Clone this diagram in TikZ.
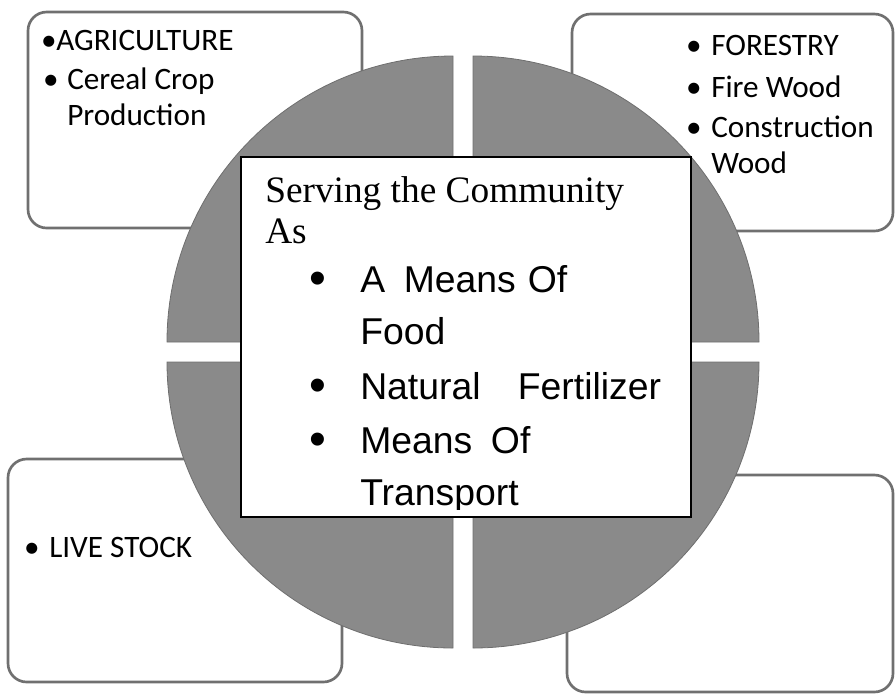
\documentclass[tikz,border=0pt]{standalone}
\usepackage{fontspec}
\newfontfamily\calfont{Carlito}
\newfontfamily\arialfont{Liberation Sans}
\newfontfamily\romanfont{Liberation Serif}
\usetikzlibrary{positioning}
\definecolor{quadgray}{RGB}{138,138,138}
\definecolor{boxline}{RGB}{112,112,112}

\begin{document}
\begin{tikzpicture}
  [x=0.75pt,y=-0.75pt,
   outerbox/.style={draw=boxline,line width=2pt,fill=white,rounded corners=14pt},
   quad/.style={fill=quadgray,draw=quadgray!80!black,line width=0.6pt},
   centerbox/.style={draw=black,line width=0.9pt,fill=white},
   small/.style={inner sep=0pt,anchor=base west,font=\calfont\fontsize{23.4}{28}\selectfont},
   smallbul/.style={small,anchor=base},
   big/.style={inner sep=0pt,anchor=base west,font=\arialfont\fontsize{28}{33}\selectfont},
   bigbul/.style={inner sep=0pt,anchor=base,font=\arialfont\fontsize{36}{40}\selectfont},
   head/.style={inner sep=0pt,anchor=base west,font=\romanfont\fontsize{28}{33}\selectfont}]

  \useasboundingbox (0,0) rectangle (896,694);

  % the four boxes round the circle
  \draw[outerbox] (28,12) rectangle (362,228);
  \draw[outerbox] (572,14) rectangle (893,231);
  \draw[outerbox] (8,459) rectangle (342,682);
  \draw[outerbox] (567,475) rectangle (893,692);

  % circle in four quarters
  \foreach \cx/\cy/\a in {453/342/180, 473/342/270, 473/362/0, 453/362/90}
    \filldraw[quad] (\cx,\cy) -- ++(\a:286) arc[start angle=\a, end angle=\a+90, radius=286] -- cycle;

  % middle box
  \draw[centerbox] (241,157) rectangle (691,517);

  % agriculture
  \node[smallbul] (ab1) at (49,50) {•};
  \node[small] (agri) at (56,50) {AGRICULTURE};
  \node[smallbul] (ab2) at (51,89) {•};
  \node[small] (cereal) at (67,89) {Cereal Crop};
  \node[small] (prod) at (67,125) {Production};

  % forestry
  \foreach \i/\y in {1/55, 2/97, 3/137}
    \node[smallbul] (fb\i) at (694,\y) {•};
  \node[small] (forest) at (711,55) {FORESTRY};
  \node[small] (fire) at (711,97) {Fire Wood};
  \node[small] (constr) at (711,137) {Construction};
  \node[small] (wood) at (711,173) {Wood};

  % live stock
  \node[smallbul] (lb) at (32,557) {•};
  \node[small] (live) at (49,557) {LIVE STOCK};

  % middle text
  \node[head] (serve) at (265,202) {Serving the Community};
  \node[head] (as) at (265,243) {As};
  \foreach \i/\y in {1/294, 2/401, 3/455}
    \node[bigbul] (mb\i) at (318,\y) {•};
  \begin{scope}
    \clip (241,157) rectangle (691,509);
    \node[big] (food1) at (360,292) {A\hspace{14pt}Means\hspace{9pt}Of};
    \node[big] (food2) at (360,344) {Food};
    \node[big] (fert) at (360,399) {Natural\hspace{28pt}Fertilizer};
    \node[big] (trans1) at (360,453) {Means\hspace{14pt}Of};
    \node[big] (trans2) at (360,505) {Transport};
  \end{scope}
\end{tikzpicture}
\end{document}
